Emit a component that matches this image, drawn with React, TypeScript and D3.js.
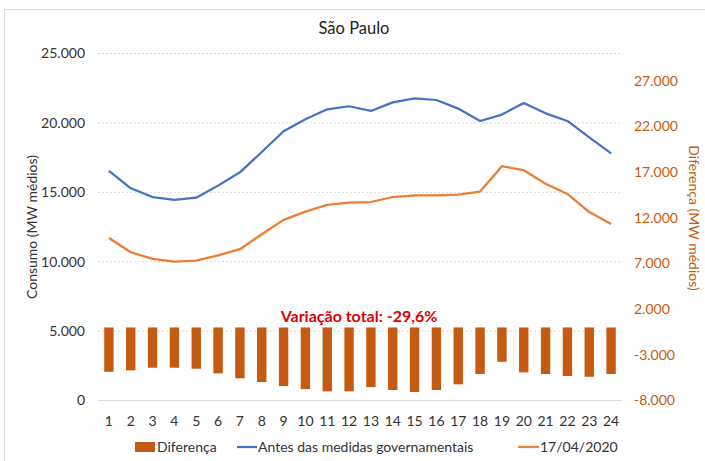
import React from 'react';
import * as d3 from 'd3';

// hourly load, São Paulo (MW médios)
const hours = ['1', '2', '3', '4', '5', '6', '7', '8', '9', '10', '11', '12', '13', '14', '15', '16', '17', '18', '19', '20', '21', '22', '23', '24'];
const antes = [16550, 15290, 14660, 14450, 14610, 15480, 16440, 17900, 19400, 20260, 20980, 21200, 20860, 21480, 21770, 21650, 21030, 20140, 20600, 21440, 20690, 20140, 18960, 17810];
const abril = [11710, 10680, 10200, 10000, 10080, 10460, 10900, 11980, 13010, 13610, 14090, 14250, 14300, 14660, 14780, 14780, 14830, 15050, 16880, 16590, 15620, 14880, 13580, 12720];
const diferenca = [-4850, -4700, -4410, -4410, -4520, -5030, -5570, -5980, -6420, -6750, -7000, -7000, -6530, -6850, -7070, -6850, -6230, -5100, -3760, -4920, -5100, -5320, -5400, -5100];

const leftTicks = [0, 5000, 10000, 15000, 20000, 25000];
const rightTicks = [-8000, -3000, 2000, 7000, 12000, 17000, 22000, 27000];

const BLUE = '#4472C4';
const ORANGE = '#ED7D31';
const BAR = '#C55A11';
const FONT = 'Lato, "Open Sans", sans-serif';

const fmt = d3.formatLocale({ decimal: ',', thousands: '.', grouping: [3], currency: ['', ''], minus: '-' }).format(',');

export default function App() {
  const W = 705, H = 461;
  const m = { left: 98, right: 622, top: 53.5, bottom: 400.5 };

  const x = d3.scaleBand().domain(hours).range([m.left, m.right]);
  const yL = d3.scaleLinear().domain([0, 25000]).range([m.bottom, m.top]);
  const yR = d3.scaleLinear().domain([-8000, 30000]).range([m.bottom, m.top]);
  const cx = (h: string) => (x(h) as number) + x.bandwidth() / 2;
  const barW = x.bandwidth() * 0.43;

  const line = d3.line<number>()
    .x((_, i) => cx(hours[i]))
    .y(d => yL(d));

  const midY = (m.top + m.bottom) / 2;

  return (
    <svg width={W} height={H} style={{ position: 'absolute', left: 0, top: 0, background: '#fff' }} fontFamily={FONT}>
      <rect x={4.5} y={9.5} width={760} height={500} fill='#fff' stroke='#d9d9d9' />

      {/* title */}
      <text x={354} y={34} textAnchor='middle' fontSize={16.5} fill='#222'>São Paulo</text>

      {/* gridlines */}
      {leftTicks.map(t => (
        <line key={t} x1={m.left} x2={m.right} y1={yL(t)} y2={yL(t)}
          stroke='#d9d9d9' strokeWidth={1} strokeDasharray={t === 0 ? undefined : '2,2'} />
      ))}

      {/* left axis */}
      {leftTicks.map(t => (
        <text key={t} x={85} y={yL(t)} dy='0.35em' textAnchor='end' fontSize={14} fill='#333'>{fmt(t)}</text>
      ))}
      <text transform={`translate(37,${midY}) rotate(-90)`} textAnchor='middle' fontSize={14} fill='#333'>Consumo (MW médios)</text>

      {/* right axis */}
      {rightTicks.map(t => (
        <text key={t} x={634} y={yR(t)} dy='0.35em' textAnchor='start' fontSize={14} fill={BAR}>{fmt(t)}</text>
      ))}
      <text transform={`translate(689,${midY - 9}) rotate(90)`} textAnchor='middle' fontSize={14} fill={BAR}>Diferença (MW médios)</text>

      {/* bars */}
      {diferenca.map((d, i) => (
        <rect key={i} x={cx(hours[i]) - barW / 2} y={yR(0)} width={barW} height={yR(d) - yR(0)} fill={BAR} />
      ))}

      {/* lines */}
      <path d={line(antes) || ''} fill='none' stroke={BLUE} strokeWidth={2.25} strokeLinejoin='round' />
      <path d={line(abril) || ''} fill='none' stroke={ORANGE} strokeWidth={2.25} strokeLinejoin='round' />

      {/* x axis labels */}
      {hours.map(h => (
        <text key={h} x={cx(h)} y={421} dy='0.35em' textAnchor='middle' fontSize={14} fill='#333'>{h}</text>
      ))}

      {/* annotation */}
      <text x={359} y={316} dy='0.35em' textAnchor='middle' fontSize={16} fontWeight='bold' fill='#E00000'>Variação total: -29,6%</text>

      {/* legend */}
      <g fontSize={14} fill='#333'>
        <rect x={135} y={442} width={20} height={10} fill={BAR} />
        <text x={157} y={447} dy='0.35em'>Diferença</text>
        <line x1={237} x2={257} y1={447} y2={447} stroke={BLUE} strokeWidth={2.25} />
        <text x={258} y={447} dy='0.35em'>Antes das medidas governamentais</text>
        <line x1={518} x2={539} y1={447} y2={447} stroke={ORANGE} strokeWidth={2.25} />
        <text x={540} y={447} dy='0.35em'>17/04/2020</text>
      </g>
    </svg>
  );
}
